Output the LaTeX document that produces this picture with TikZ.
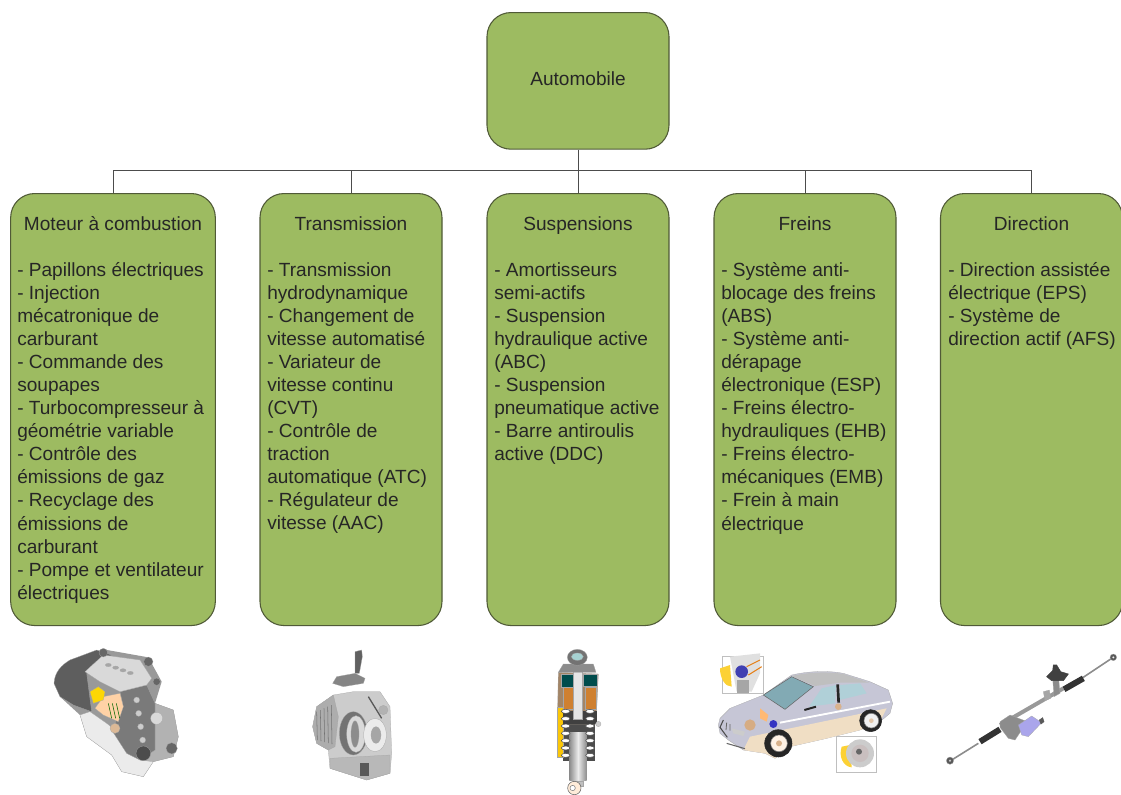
\documentclass[tikz,border=0pt]{standalone}
\usepackage{fontspec}
\setmainfont{Liberation Sans}
\definecolor{boxgreen}{RGB}{157,187,97}
\definecolor{boxedge}{RGB}{80,90,55}
\definecolor{carbody}{RGB}{198,198,214}
\definecolor{carglass}{RGB}{130,170,180}
\definecolor{carside}{RGB}{176,208,216}
\definecolor{carlow}{RGB}{240,222,196}
\definecolor{motorblue}{RGB}{170,165,235}
\tikzset{
	groupbox/.style={draw=boxedge, fill=boxgreen, line width=0.8pt, rounded corners=18pt, minimum height=324pt, inner sep=0pt, anchor=north},
	rootbox/.style={groupbox, minimum width=136.5pt, minimum height=102.5pt},
	grouptitle/.style={font=\fontsize{14.3}{17.3}\selectfont, inner sep=0pt, anchor=base, text=black!85},
	grouplist/.style={font=\fontsize{14.3}{17.3}\selectfont, inner sep=0pt, align=left, anchor=north west, text=black!85},
	link/.style={draw=black!70, line width=0.75pt},
	part/.style={draw=black!35, line width=0.2pt},
	crop/.style={shift={#1}, x=0.25pt, y=-0.25pt},
}
\begin{document}
\begin{tikzpicture}[x=0.75pt, y=-0.75pt]
	\useasboundingbox (0,0) rectangle (1121,794);

	% boxes
	\node[rootbox] (automobile) at (578,12) {};
	\node[grouptitle] (automobiletitle) at (578,85) {Automobile};
	\node[groupbox, minimum width=153.5pt] (moteur) at (113,193) {};
	\node[groupbox, minimum width=136.5pt] (transmission) at (351,193) {};
	\node[groupbox, minimum width=136.5pt] (suspensions) at (578,193) {};
	\node[groupbox, minimum width=136.5pt] (freins) at (805,193) {};
	\node[groupbox, minimum width=136.5pt] (direction) at (1031.5,193) {};

	% links
	\coordinate (bus) at (578,170);
	\draw[link] (automobile) -- (suspensions);
	\draw[link] (bus) -| (moteur);
	\draw[link] (bus) -| (transmission);
	\draw[link] (bus) -| (freins);
	\draw[link] (bus) -| (direction);

	% titles
	\node[grouptitle] (moteurtitle) at (113,230) {Moteur à combustion};
	\node[grouptitle] (transmissiontitle) at (351,230) {Transmission};
	\node[grouptitle] (suspensionstitle) at (578,230) {Suspensions};
	\node[grouptitle] (freinstitle) at (805,230) {Freins};
	\node[grouptitle] (directiontitle) at (1031.5,230) {Direction};

	% lists
	\node[grouplist] (moteurlist) at (17,262) {- Papillons électriques\\- Injection\\mécatronique de\\carburant\\- Commande des\\soupapes\\- Turbocompresseur à\\géométrie variable\\- Contrôle des\\émissions de gaz\\- Recyclage des\\émissions de\\carburant\\- Pompe et ventilateur\\électriques};
	\node[grouplist] (transmissionlist) at (267,262) {- Transmission\\hydrodynamique\\- Changement de\\vitesse automatisé\\- Variateur de\\vitesse continu\\(CVT)\\- Contrôle de\\traction\\automatique (ATC)\\- Régulateur de\\vitesse (AAC)};
	\node[grouplist] (suspensionslist) at (494,262) {- Amortisseurs\\semi-actifs\\- Suspension\\hydraulique active\\(ABC)\\- Suspension\\pneumatique active\\- Barre antiroulis\\active (DDC)};
	\node[grouplist] (freinslist) at (721,262) {- Système anti-\\blocage des freins\\(ABS)\\- Système anti-\\dérapage\\électronique (ESP)\\- Freins électro-\\hydrauliques (EHB)\\- Freins électro-\\mécaniques (EMB)\\- Frein à main\\électrique};
	\node[grouplist] (directionlist) at (948,262) {- Direction assistée\\électrique (EPS)\\- Système de\\direction actif (AFS)};

	% engine
	\begin{scope}[crop={(40,640)}]
		\fill[black!40] (42,130) -- (90,60) -- (190,28) -- (325,52) -- (365,125) -- (345,190) -- (400,210) -- (415,290) -- (400,350) -- (340,365) -- (310,410) -- (245,395) -- (215,345) -- (140,290) -- (120,225) -- (60,170) -- cycle;
		\filldraw[part, fill=black!8] (120,225) -- (150,215) -- (200,250) -- (300,330) -- (340,365) -- (310,410) -- (245,395) -- (215,345) -- (140,290) -- cycle;
		\filldraw[part, fill=black!63] (42,130) .. controls (44,95) and (65,75) .. (90,60) -- (170,30) -- (215,45) -- (140,100) -- (155,215) -- (100,195) -- (60,170) -- cycle;
		\filldraw[part, fill=black!30] (345,190) -- (400,210) -- (415,290) -- (400,350) -- (340,365) -- (300,360) -- (345,300) -- cycle;
		\filldraw[part, fill=black!52] (240,155) -- (320,135) -- (345,190) -- (345,330) -- (300,360) -- (260,340) -- (215,270) -- (250,200) -- cycle;
		\filldraw[part, fill=black!15] (135,95) -- (190,45) -- (300,60) -- (335,115) -- (320,135) -- (240,155) -- (180,125) -- cycle;
		\filldraw[part, fill=orange!35] (190,170) -- (240,160) -- (250,200) -- (235,245) -- (190,225) -- (165,205) -- cycle;
		\filldraw[part, fill=yellow!75!orange] (150,155) -- (175,140) -- (195,155) -- (190,180) -- (160,190) -- cycle;
		\filldraw[part, fill=brown!55] (225,265) circle (15);
		\filldraw[part, fill=black!70] (310,340) circle (22);
		\filldraw[part, fill=black!15] (350,235) circle (18);
		\filldraw[part, fill=black!60] (395,325) circle (17);
		\filldraw[part, fill=black!60] (190,38) circle (13);
		\filldraw[part, fill=black!60] (325,65) circle (14);
		\filldraw[part, fill=black!60] (350,125) circle (11);
		\foreach \i in {0,1,2,3}
			\filldraw[part, fill=black!35] (205+\i*22,75+\i*8) ellipse (9 and 5);
		\foreach \i in {0,1,2,3}
			\filldraw[part, fill=black!20] (290+\i*6,180+\i*40) circle (9);
		\foreach \i in {0,1,2}
			\draw[green!40!black] (205+\i*12,190) -- (215+\i*12,235);
	\end{scope}

	% gearbox
	\begin{scope}[crop={(300,640)}]
		\filldraw[part, fill=black!62] (165,35) -- (185,30) -- (187,50) -- (178,100) -- (165,100) -- cycle;
		\filldraw[part, fill=black!48] (110,110) -- (165,100) -- (195,115) -- (190,130) -- (130,140) -- (98,130) -- cycle;
		\filldraw[part, fill=black!20] (50,200) -- (100,165) -- (160,155) -- (240,155) -- (270,200) -- (275,340) -- (270,400) -- (200,420) -- (90,385) -- (85,330) -- (50,310) -- (38,260) -- cycle;
		\filldraw[part, fill=black!32] (50,200) -- (100,165) -- (115,230) -- (105,320) -- (85,330) -- (50,310) -- (38,260) -- cycle;
		\foreach \i in {0,...,4}
			\draw[black!55] (50+\i*11,215-\i*5) -- (52+\i*11,300+\i*3);
		\filldraw[part, fill=black!55] (160,280) ellipse (42 and 65);
		\filldraw[part, fill=black!15] (168,282) ellipse (28 and 55);
		\filldraw[part, fill=black!45] (165,282) ellipse (12 and 40);
		\filldraw[part, fill=black!8] (225,285) ellipse (34 and 50);
		\filldraw[part, fill=black!35] (228,285) ellipse (15 and 25);
		\draw[black!65, line width=1pt] (205,170) -- (245,235);
		\filldraw[part, fill=black!30] (250,210) circle (14);
		\filldraw[part, fill=black!28] (90,355) -- (270,345) -- (270,400) -- (200,420) -- (90,385) -- cycle;
		\filldraw[black!65] (180,370) rectangle (205,405);
	\end{scope}

	% shock absorber
	\begin{scope}[crop={(540,644)}]
		\fill[black!70] (68,235) rectangle (165,352);
		\shade[left color=black!45, right color=black!45, middle color=black!8] (88,265) rectangle (140,410);
		\filldraw[part, fill=orange!40!black!60!white] (55,85) -- (175,90) -- (168,240) -- (52,240) -- cycle;
		\filldraw[part, fill=yellow!60!orange] (50,190) rectangle (68,340);
		\filldraw[part, fill=teal!60!black] (62,90) rectangle (100,130);
		\filldraw[part, fill=teal!60!black] (130,90) rectangle (172,125);
		\filldraw[part, fill=brown!75!orange] (68,130) rectangle (100,195);
		\filldraw[part, fill=brown!75!orange] (135,130) rectangle (168,195);
		\filldraw[draw=none, fill=black!75] (68,200) rectangle (170,240);
		\filldraw[part, fill=white!90!black] (100,75) rectangle (125,225);
		\filldraw[part, fill=black!45] (70,60) -- (160,60) -- (168,85) -- (55,85) -- cycle;
		\filldraw[part, fill=black!55] (112,40) ellipse (30 and 24);
		\filldraw[part, fill=teal!35] (112,38) ellipse (18 and 11);
		\foreach \i in {0,...,6} {
			\filldraw[draw=black!70, fill=white] (77,202+\i*22) ellipse (13 and 6);
			\filldraw[draw=black!70, fill=white] (150,202+\i*22) ellipse (13 and 6);
		}
		\filldraw[part, fill=black!20] (175,240) circle (8);
		\filldraw[part, fill=black!25] (98,410) rectangle (128,425);
		\filldraw[draw=black!60, fill=orange!15] (103,432) circle (20);
		\filldraw[draw=black!50, fill=white] (98,432) circle (8);
	\end{scope}

	% car
	\begin{scope}[crop={(710,650)}]
		\draw[black!25] (37,20) rectangle (160,130);
		\filldraw[draw=none, fill=yellow!60!orange!80] (30,55) .. controls (30,85) and (45,110) .. (65,110) -- (60,45) -- cycle;
		\filldraw[draw=none, fill=black!12] (60,20) -- (150,10) -- (150,70) -- (125,125) -- (80,125) -- cycle;
		\filldraw[draw=none, fill=black!35] (80,90) rectangle (118,128);
		\filldraw[draw=none, fill=blue!60!black!75] (95,65) circle (19);
		\draw[orange!60!brown, line width=0.8pt] (110,50) -- (150,30) (115,75) -- (155,50);
		\draw[black!25] (380,258) rectangle (500,368);
		\filldraw[draw=none, fill=yellow!60!orange!80] (395,290) .. controls (385,320) and (400,350) .. (425,352) -- (420,285) -- cycle;
		\filldraw[draw=none, fill=black!20] (450,310) circle (42);
		\filldraw[draw=none, fill=red!15!black!25] (450,310) circle (26);
		\filldraw[draw=none, fill=black!60] (447,305) circle (9);
		% body
		\filldraw[part, fill=carbody] (25,225) -- (30,205) -- (60,175) -- (160,135) -- (245,75) .. controls (300,62) and (360,62) .. (400,70) -- (480,95) -- (535,120) -- (548,160) -- (540,190) -- (510,215) -- (450,240) -- (350,265) -- (240,290) -- (195,325) -- (165,310) -- (100,300) -- (55,270) -- (30,250) -- cycle;
		\fill[carlow] (120,260) -- (530,175) -- (510,215) -- (450,240) -- (350,265) -- (240,290) -- (195,325) -- (165,310) -- (100,300) -- cycle;
		\draw[white, line width=1.4pt] (210,218) -- (540,155);
		\filldraw[draw=black!60, fill=carglass] (160,135) -- (245,80) -- (310,110) -- (225,178) -- cycle;
		\filldraw[draw=none, fill=black!25] (245,78) .. controls (300,65) and (360,65) .. (400,72) -- (478,98) -- (390,98) -- (315,108) -- cycle;
		\filldraw[draw=none, fill=carside] (297,170) -- (335,115) -- (378,105) -- (375,160) -- cycle;
		\filldraw[draw=none, fill=carside] (390,105) -- (450,100) -- (470,130) -- (388,150) -- cycle;
		\draw[black!85, line width=2pt] (383,103) -- (386,158);
		\draw[black!85, line width=1.5pt] (283,180) -- (318,170);
		\filldraw[black!85] (205,280) circle (41);
		\filldraw[draw=black!50, fill=orange!10] (207,280) circle (25);
		\filldraw[draw=none, fill=brown!60] (207,280) circle (9);
		\filldraw[black!85] (482,212) circle (33);
		\filldraw[draw=black!50, fill=black!6] (484,212) circle (22);
		\filldraw[draw=none, fill=brown!45] (484,212) circle (7);
		\filldraw[draw=none, fill=brown!65] (120,225) circle (17);
		\filldraw[draw=none, fill=orange!55] (150,175) -- (175,195) -- (170,215) -- (150,205) -- cycle;
		\filldraw[draw=none, fill=blue!70!black!80] (190,222) circle (12);
		\filldraw[draw=none, fill=brown!60] (385,170) circle (10);
		\draw[black!70, line width=0.8pt] (40,210) -- (30,232) -- (52,262);
		\draw[black!60, line width=0.6pt] (50,218) -- (48,240) (60,222) -- (60,242);
		\filldraw[draw=none, fill=white!80!black] (65,235) -- (105,245) -- (100,258) -- (70,250) -- cycle;
		\draw[black!60, line width=0.8pt] (50,280) -- (105,296);
	\end{scope}

	% steering rack
	\begin{scope}[crop={(940,650)}]
		\draw[black!45, line width=1.2pt] (35,330) -- (115,280);
		\draw[black!45, line width=1.2pt] (425,85) -- (515,25);
		\draw[black!40, line width=3pt] (180,225) -- (370,115);
		\draw[black!80, line width=4.5pt] (120,275) -- (180,238);
		\draw[black!80, line width=4.5pt] (372,118) -- (430,85);
		\filldraw[part, fill=black!45] (180,215) -- (210,195) -- (262,215) -- (225,270) -- (205,265) -- (180,232) -- cycle;
		\filldraw[part, fill=motorblue] (235,225) -- (275,198) -- (305,218) -- (265,260) -- (245,255) -- cycle;
		\filldraw[black!65] (298,210) -- (308,203) -- (312,215) -- (303,222) -- cycle;
		\filldraw[part, fill=black!45] (338,85) -- (356,85) -- (360,130) -- (342,140) -- cycle;
		\filldraw[black!75] (320,80) -- (338,62) -- (340,45) -- (350,45) -- (362,65) -- (385,72) -- (370,92) -- (335,92) -- cycle;
		\filldraw[part, fill=black!35] (310,125) -- (328,120) -- (332,145) -- (315,152) -- cycle;
		\filldraw[part, fill=black!65] (30,332) circle (11);
		\filldraw[part, fill=black!65] (520,22) circle (10);
		\filldraw[part, fill=white] (30,332) circle (3);
		\filldraw[part, fill=white] (520,22) circle (3);
	\end{scope}
\end{tikzpicture}
\end{document}
